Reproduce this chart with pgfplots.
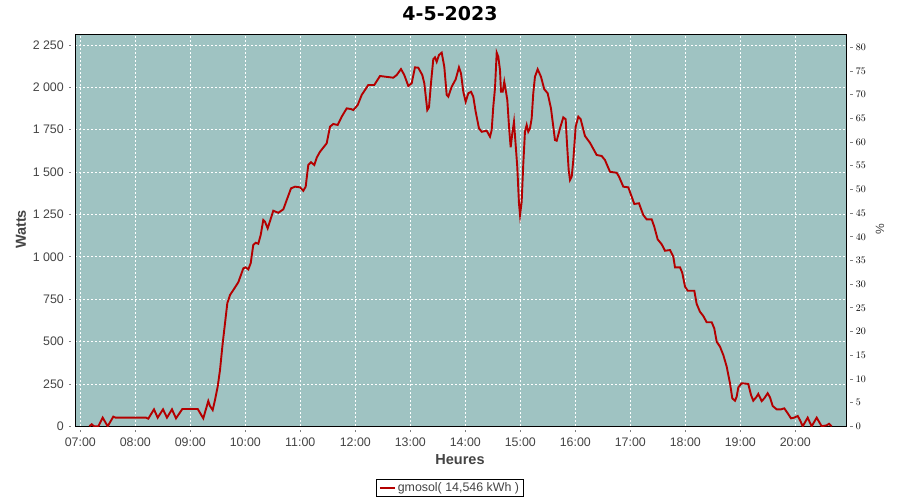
\documentclass[border=0pt]{standalone}
\usepackage{pgfplots}
\pgfplotsset{compat=1.18}
\usepackage{fontspec}
\setmainfont{Liberation Sans}
\newfontfamily\titlefont{DejaVu Sans}
\definecolor{bg}{RGB}{159,195,194}
\definecolor{ser}{RGB}{180,0,0}
\definecolor{ticktxt}{RGB}{68,68,68}
\definecolor{axg}{RGB}{128,128,128}
\pgfplotstableread{
h W
7.165 0
7.207 12
7.25 0
7.327 0
7.407 51
7.498 0
7.600 57
7.64 51
8.195 51
8.236 45
8.340 100
8.407 51
8.504 100
8.576 51
8.667 100
8.740 47
8.855 102
9.135 102
9.236 47
9.327 149
9.358 120
9.407 96
9.449 155
9.498 234
9.540 332
9.589 490
9.631 608
9.673 726
9.722 775
9.782 804
9.873 850
9.964 932
10.007 938
10.055 926
10.098 962
10.145 1070
10.189 1083
10.236 1077
10.280 1129
10.327 1217
10.358 1207
10.407 1168
10.509 1272
10.600 1260
10.691 1280
10.753 1335
10.831 1404
10.904 1414
10.995 1410
11.055 1390
11.098 1414
11.145 1542
11.195 1558
11.255 1542
11.298 1585
11.358 1620
11.480 1670
11.540 1768
11.600 1784
11.680 1778
11.753 1827
11.844 1876
11.922 1872
11.964 1866
12.044 1896
12.116 1955
12.236 2014
12.345 2014
12.449 2067
12.691 2057
12.753 2073
12.831 2108
12.891 2073
12.964 2008
13.025 2024
13.085 2118
13.145 2116
13.218 2073
13.255 2024
13.309 1866
13.340 1882
13.376 2024
13.418 2166
13.449 2177
13.480 2151
13.522 2191
13.571 2205
13.618 2122
13.662 1955
13.691 1945
13.753 2004
13.825 2047
13.885 2118
13.922 2083
13.964 1974
14.007 1915
14.055 1965
14.104 1974
14.145 1945
14.189 1856
14.249 1758
14.298 1738
14.389 1744
14.449 1709
14.480 1748
14.509 1886
14.540 1994
14.571 2205
14.600 2181
14.631 2102
14.649 1974
14.680 1974
14.709 2033
14.735 1984
14.764 1925
14.795 1768
14.825 1646
14.855 1729
14.885 1797
14.916 1660
14.945 1532
14.976 1316
14.995 1247
15.025 1325
15.055 1552
15.085 1738
15.116 1778
15.145 1738
15.176 1758
15.207 1817
15.236 1965
15.267 2063
15.316 2107
15.376 2063
15.436 1989
15.498 1965
15.558 1876
15.631 1689
15.662 1685
15.722 1758
15.782 1823
15.825 1812
15.849 1670
15.880 1512
15.904 1453
15.935 1473
15.964 1571
16.007 1768
16.055 1827
16.098 1812
16.176 1713
16.267 1673
16.389 1601
16.480 1595
16.540 1571
16.631 1502
16.753 1496
16.795 1473
16.873 1414
16.964 1410
17.073 1312
17.158 1316
17.236 1247
17.298 1221
17.389 1221
17.436 1178
17.498 1103
17.571 1074
17.631 1036
17.722 1040
17.782 1001
17.813 938
17.904 938
17.945 906
17.995 824
18.044 800
18.164 800
18.207 722
18.267 676
18.327 651
18.389 614
18.480 614
18.527 578
18.571 499
18.631 470
18.691 421
18.753 352
18.813 254
18.855 165
18.904 151
18.935 175
18.964 230
19.025 254
19.145 250
19.195 185
19.236 151
19.298 175
19.327 191
19.389 149
19.436 165
19.498 195
19.540 171
19.589 120
19.662 100
19.740 100
19.800 106
19.862 77
19.922 47
19.982 51
20.044 61
20.085 37
20.135 0
20.225 51
20.298 0
20.389 51
20.480 0
20.571 6
20.613 15
20.662 0
}\gmosol
\begin{document}
\begin{tikzpicture}
\useasboundingbox (0,0) rectangle (900bp,500bp);
\begin{axis}[
  at={(75.3bp,73.7bp)}, anchor=south west, scale only axis,
  width=771.4bp, height=391.3bp,
  xmin=6.909, xmax=20.935, ymin=0, ymax=2309,
  axis background/.style={fill=bg},
  axis line style={black, line width=1bp},
  xtick={7,8,9,10,11,12,13,14,15,16,17,18,19,20},
  xticklabels={07:00,08:00,09:00,10:00,11:00,12:00,13:00,14:00,15:00,16:00,17:00,18:00,19:00,20:00},
  ytick={0,250,500,750,1000,1250,1500,1750,2000,2250},
  yticklabels={0,250,500,750,{1 000},{1 250},{1 500},{1 750},{2 000},{2 250}},
  grid=major,
  major grid style={white, dash pattern=on 2bp off 2bp, line width=0.8bp},
  xtick pos=bottom, ytick pos=left,
  tick align=outside, major tick length=2.5bp,
  xtick style={axg, line width=0.8bp, yshift=-3.4bp},
  ytick style={axg, line width=0.8bp, xshift=-4bp},
  ticklabel style={font=\fontsize{12.4bp}{14bp}\selectfont, text=ticktxt},
  xticklabel style={anchor=north, inner sep=0pt, yshift=-9bp},
  yticklabel style={anchor=east, inner sep=0pt, xshift=-8.8bp},
  legend style={at={(0.4857,-0.1577)}, anchor=center, draw=black, line width=1bp, fill=white,
    inner xsep=2bp, inner ysep=1.5bp, font=\fontsize{12.4bp}{14bp}\selectfont, text=ticktxt,
    /tikz/every even column/.append style={column sep=2bp}},
  legend image code/.code={\draw[#1] (0bp,0bp) -- (15bp,0bp);},
  legend cell align=left,
]
\addplot[ser, line width=1.9bp] table[x=h, y=W] {\gmosol};
\addlegendentry{gmosol( 14,546 kWh )}
\draw[axg, line width=0.8bp] ([xshift=-4bp]rel axis cs:0,0) -- ([xshift=-4bp]rel axis cs:0,1);
\draw[axg, line width=0.8bp] ([yshift=-3.4bp]rel axis cs:0,0) -- ([yshift=-3.4bp]rel axis cs:1,0);
\end{axis}
\begin{axis}[
  at={(75.3bp,73.7bp)}, anchor=south west, scale only axis,
  width=771.4bp, height=391.3bp,
  xmin=6.909, xmax=20.935, ymin=0, ymax=82.6,
  hide x axis,
  axis y line*=right,
  y axis line style={draw=none},
  ytick={0,5,...,80},
  tick align=outside, major tick length=2.5bp,
  ytick style={axg, line width=0.8bp, xshift=3.5bp},
  yticklabel style={anchor=west, inner sep=0pt, xshift=6.5bp, font=\fontsize{10bp}{12bp}\selectfont, text=black},
]
\draw[axg, line width=0.8bp] ([xshift=3.5bp]rel axis cs:1,0) -- ([xshift=3.5bp]rel axis cs:1,1);
\end{axis}
\node[font=\titlefont\bfseries\fontsize{19bp}{22bp}\selectfont] at (450bp,486bp) {4-5-2023};
\node[font=\bfseries\fontsize{14.5bp}{17bp}\selectfont, text=ticktxt, rotate=90] at (21bp,270.5bp) {Watts};
\node[font=\bfseries\fontsize{14.5bp}{17bp}\selectfont, text=ticktxt] at (460bp,40.5bp) {Heures};
\node[font=\fontsize{12bp}{14bp}\selectfont, text=ticktxt, rotate=90] at (880bp,271bp) {\%};
\end{tikzpicture}
\end{document}
